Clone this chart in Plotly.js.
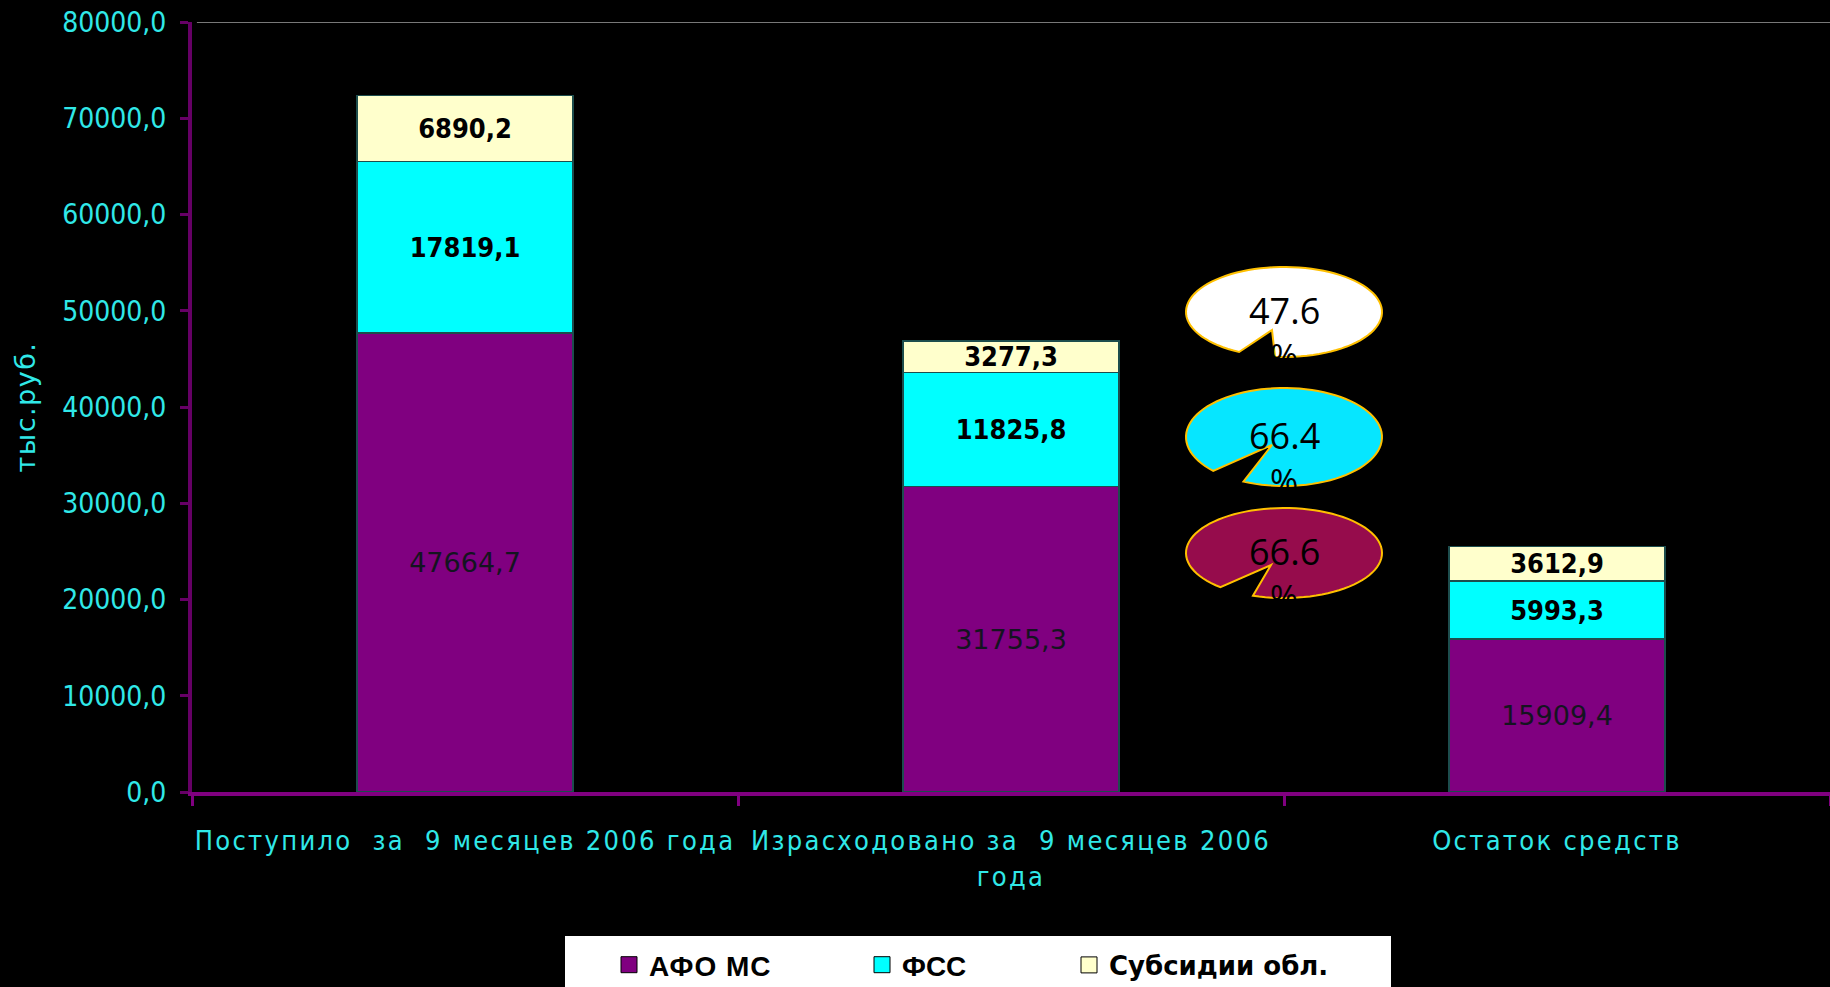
<!DOCTYPE html>
<html>
<head>
<meta charset="utf-8">
<script src="https://cdn.plot.ly/plotly-3.0.1.min.js"></script>
<style>
  html, body { margin: 0; padding: 0; background: #000; }
  #chart { width: 1830px; height: 987px; }
  #chart .xtick text { letter-spacing: 2.3px; }
  #chart .ytitle { letter-spacing: 1.5px; }
  #chart .legendtext { letter-spacing: 1px; }
</style>
</head>
<body>
<div id="chart"></div>
<script>
// categories and series (thousand roubles)
const categories = [
  'Поступило\u00a0 за\u00a0 9 месяцев 2006 года',
  'Израсходовано за\u00a0 9 месяцев 2006<br>года',
  'Остаток средств'
];
const seriesNames = ['АФО МС', 'ФСС', 'Субсидии обл.'];
const afomsValues = [47664.7, 31755.3, 15909.4];
const fssValues = [17819.1, 11825.8, 5993.3];
const subsidyValues = [6890.2, 3277.3, 3612.9];
const yTickVals = [0, 10000, 20000, 30000, 40000, 50000, 60000, 70000, 80000];

const colors = ['#800080', '#00FFFF', '#FFFFCC'];
const cyanText = '#30E8E8';
const legendIds = ['legend', 'legend2', 'legend3'];

// plot area in pixels
const L = 192, T = 22, W = 1638, H = 770;
const px = X => (X - L) / W;
const py = Y => (T + H - Y) / H;

function barTrace(i, values, bold) {
  return {
    type: 'bar',
    name: seriesNames[i],
    showlegend: false,
    x: categories,
    y: values,
    marker: { color: colors[i], line: { color: '#1d4d4d', width: 1.5 } },
    texttemplate: '%{y:.1f}',
    textposition: 'inside',
    insidetextanchor: 'middle',
    textangle: 0,
    textfont: bold
      ? { family: 'DejaVu Sans Condensed, DejaVu Sans, sans-serif', size: 27, color: '#000', weight: 'bold' }
      : { family: 'DejaVu Sans, sans-serif', size: 27, color: '#141420', weight: 'normal' },
    hoverinfo: 'skip'
  };
}

// legend entries with bigger square keys
function keyTrace(i) {
  return {
    type: 'scatter',
    mode: 'markers',
    name: seriesNames[i],
    legend: legendIds[i],
    x: [null],
    y: [null],
    marker: { symbol: 'square', size: 16, color: colors[i], line: { color: '#000', width: 1 } },
    hoverinfo: 'skip'
  };
}

const data = [
  barTrace(0, afomsValues, false),
  barTrace(1, fssValues, true),
  barTrace(2, subsidyValues, true),
  keyTrace(0), keyTrace(1), keyTrace(2)
];

// spent / received, percent
const pct = (a, b) => (a / b * 100).toFixed(1);
const bubbles = [
  { value: pct(subsidyValues[1], subsidyValues[0]), fill: '#FFFFFF', cy: 312, ry: 45, a: [1238, 353], b: [1275, 357], tip: [1272, 330] },
  { value: pct(fssValues[1], fssValues[0]), fill: '#06E6FF', cy: 437, ry: 49, a: [1213, 471], b: [1244, 481], tip: [1272, 445] },
  { value: pct(afomsValues[1], afomsValues[0]), fill: '#960C4C', cy: 553, ry: 45, a: [1219, 588], b: [1252, 597], tip: [1271, 565] }
];
const bcx = 1284, brx = 98;

function bubblePath(bb) {
  const ang = p => Math.atan2((p[1] - bb.cy) / bb.ry, (p[0] - bcx) / brx);
  const a1 = ang(bb.b), a2 = ang(bb.a) - 2 * Math.PI;
  const n = 90;
  let d = '';
  for (let i = 0; i <= n; i++) {
    const t = a1 + (a2 - a1) * i / n;
    const X = bcx + brx * Math.cos(t), Y = bb.cy + bb.ry * Math.sin(t);
    d += (i === 0 ? 'M' : 'L') + px(X).toFixed(5) + ',' + py(Y).toFixed(5);
  }
  d += 'L' + px(bb.tip[0]).toFixed(5) + ',' + py(bb.tip[1]).toFixed(5) + 'Z';
  return d;
}

const shapes = [
  { type: 'line', xref: 'paper', yref: 'y', x0: 0.003, x1: 1, y0: 80000, y1: 80000,
    line: { color: '#a0a0a0', width: 1.5 } },
  { type: 'rect', xref: 'paper', yref: 'paper', x0: px(565), x1: px(1391), y0: py(936), y1: py(1010),
    fillcolor: '#FFFFFF', line: { width: 0 }, layer: 'below' }
];
const annotations = [];
bubbles.forEach(bb => {
  shapes.push({ type: 'path', xref: 'paper', yref: 'paper', path: bubblePath(bb),
    fillcolor: bb.fill, line: { color: '#FFC000', width: 2 }, layer: 'above' });
  annotations.push({ xref: 'paper', yref: 'paper', x: px(bcx), y: py(bb.cy - 2), text: bb.value,
    xanchor: 'center', yanchor: 'middle', showarrow: false,
    font: { family: 'Open Sans, sans-serif', size: 36, color: '#000' } });
  annotations.push({ xref: 'paper', yref: 'paper', x: px(bcx), y: py(bb.cy + 44), text: '%',
    xanchor: 'center', yanchor: 'middle', showarrow: false,
    font: { family: 'Open Sans, sans-serif', size: 34, color: '#000' } });
});

function legendAt(textLeft, font) {
  return {
    orientation: 'h',
    xref: 'paper', yref: 'paper',
    x: px(textLeft - 40), xanchor: 'left',
    y: py(965), yanchor: 'middle',
    bgcolor: 'rgba(0,0,0,0)',
    font: font || { family: 'Liberation Sans, Arial, sans-serif', size: 28, color: '#000', weight: 'bold' }
  };
}

const layout = {
  width: 1830,
  height: 987,
  margin: { l: L, r: 0, t: T, b: 987 - T - H, autoexpand: false },
  paper_bgcolor: '#000',
  plot_bgcolor: '#000',
  barmode: 'stack',
  bargap: 0.604,
  separators: ', ',
  uniformtext: { mode: 'show', minsize: 27 },
  showlegend: true,
  legend: legendAt(649),
  legend2: legendAt(902),
  legend3: legendAt(1109, { family: 'DejaVu Sans, sans-serif', size: 26, color: '#000', weight: 'bold' }),
  xaxis: {
    type: 'category',
    range: [-0.5, 2.5],
    showline: true,
    linecolor: '#800080',
    linewidth: 4,
    ticks: 'outside',
    tickson: 'boundaries',
    ticklen: 10,
    tickwidth: 3,
    tickcolor: '#800080',
    tickangle: 0,
    ticklabelstandoff: 22,
    automargin: false,
    tickfont: { family: 'DejaVu Sans Condensed, DejaVu Sans, sans-serif', size: 27, color: cyanText }
  },
  yaxis: {
    range: [0, 80000],
    tickvals: yTickVals,
    tickformat: '.1f',
    showgrid: false,
    zeroline: false,
    showline: true,
    linecolor: '#660066',
    linewidth: 4,
    ticks: 'outside',
    ticklen: 8,
    tickwidth: 3,
    tickcolor: '#660066',
    ticklabelstandoff: 8,
    automargin: false,
    tickfont: { family: 'DejaVu Sans Condensed, DejaVu Sans, sans-serif', size: 28, color: cyanText },
    title: { text: 'тыс.руб.', standoff: 20, font: { family: 'DejaVu Sans, sans-serif', size: 27, color: cyanText } }
  },
  shapes: shapes,
  annotations: annotations
};

Plotly.newPlot('chart', data, layout, { displayModeBar: false, staticPlot: true });
</script>
</body>
</html>
